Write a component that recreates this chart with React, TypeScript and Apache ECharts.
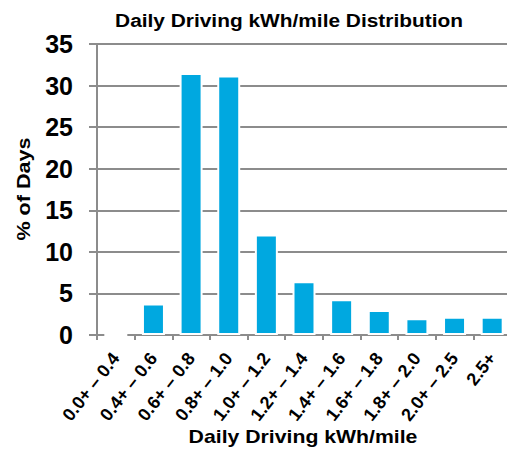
import React, { useEffect, useRef } from "react";
import * as echarts from "echarts";

const categories = [
  "0.0+ – 0.4",
  "0.4+ – 0.6",
  "0.6+ – 0.8",
  "0.8+ – 1.0",
  "1.0+ – 1.2",
  "1.2+ – 1.4",
  "1.4+ – 1.6",
  "1.6+ – 1.8",
  "1.8+ – 2.0",
  "2.0+ – 2.5",
  "2.5+",
];
const percentDays = [0, 3.8, 31.5, 31.2, 12.1, 6.45, 4.3, 3.0, 2.0, 2.2, 2.2];
const yTicks = { min: 0, max: 35, step: 5 };

const titleText = "Daily Driving kWh/mile Distribution";
const xAxisTitle = "Daily Driving kWh/mile";
const yAxisTitle = "% of Days";

const FONT = "Liberation Sans, Arial, sans-serif";

export default function App() {
  const ref = useRef<HTMLDivElement>(null);
  useEffect(() => {
    if (!ref.current) return;
    const chart = echarts.init(ref.current, null, { renderer: "svg" });
    const nameStyle = (text: string) => ({
      text,
      fontFamily: FONT,
      fontSize: 18,
      fontWeight: "bold",
      fill: "#000",
      align: "center",
      verticalAlign: "middle",
    });
    chart.setOption({
      animation: false,
      backgroundColor: "#ffffff",
      grid: {
        left: 97,
        top: 44,
        width: 414,
        height: 291,
        containLabel: false,
        outerBoundsMode: "none",
      },
      graphic: [
        { type: "text", x: 289, y: 21, scaleX: 1.16, style: nameStyle(titleText) },
        { type: "text", x: 303, y: 437, scaleX: 1.18, style: nameStyle(xAxisTitle) },
        {
          type: "text",
          x: 24,
          y: 189,
          rotation: Math.PI / 2,
          scaleX: 1.2,
          style: nameStyle(yAxisTitle),
        },
      ],
      xAxis: {
        type: "category",
        data: categories,
        axisLine: { lineStyle: { color: "#8c8c8c", width: 2 } },
        axisTick: { show: true, length: 5, lineStyle: { color: "#8c8c8c", width: 2 } },
        axisLabel: {
          rotate: 52,
          margin: 20,
          interval: 0,
          fontFamily: FONT,
          fontSize: 18,
          fontWeight: "bold",
          color: "#000",
        },
      },
      yAxis: {
        type: "value",
        min: yTicks.min,
        max: yTicks.max,
        interval: yTicks.step,
        axisLine: { show: true, lineStyle: { color: "#8c8c8c", width: 2 } },
        axisTick: { show: true, length: 8, lineStyle: { color: "#8c8c8c", width: 2 } },
        splitLine: { show: true, lineStyle: { color: "#8c8c8c", width: 2 } },
        axisLabel: {
          margin: 24,
          fontFamily: FONT,
          fontSize: 25,
          fontWeight: "bold",
          color: "#000",
        },
      },
      series: [
        {
          type: "bar",
          data: percentDays,
          barWidth: 23,
          itemStyle: { color: "#00A8E0", borderColor: "#ffffff", borderWidth: 2 },
        },
      ],
    });
    return () => chart.dispose();
  }, []);
  return (
    <div
      ref={ref}
      style={{ position: "fixed", left: 0, top: 0, width: 507, height: 449 }}
    />
  );
}
